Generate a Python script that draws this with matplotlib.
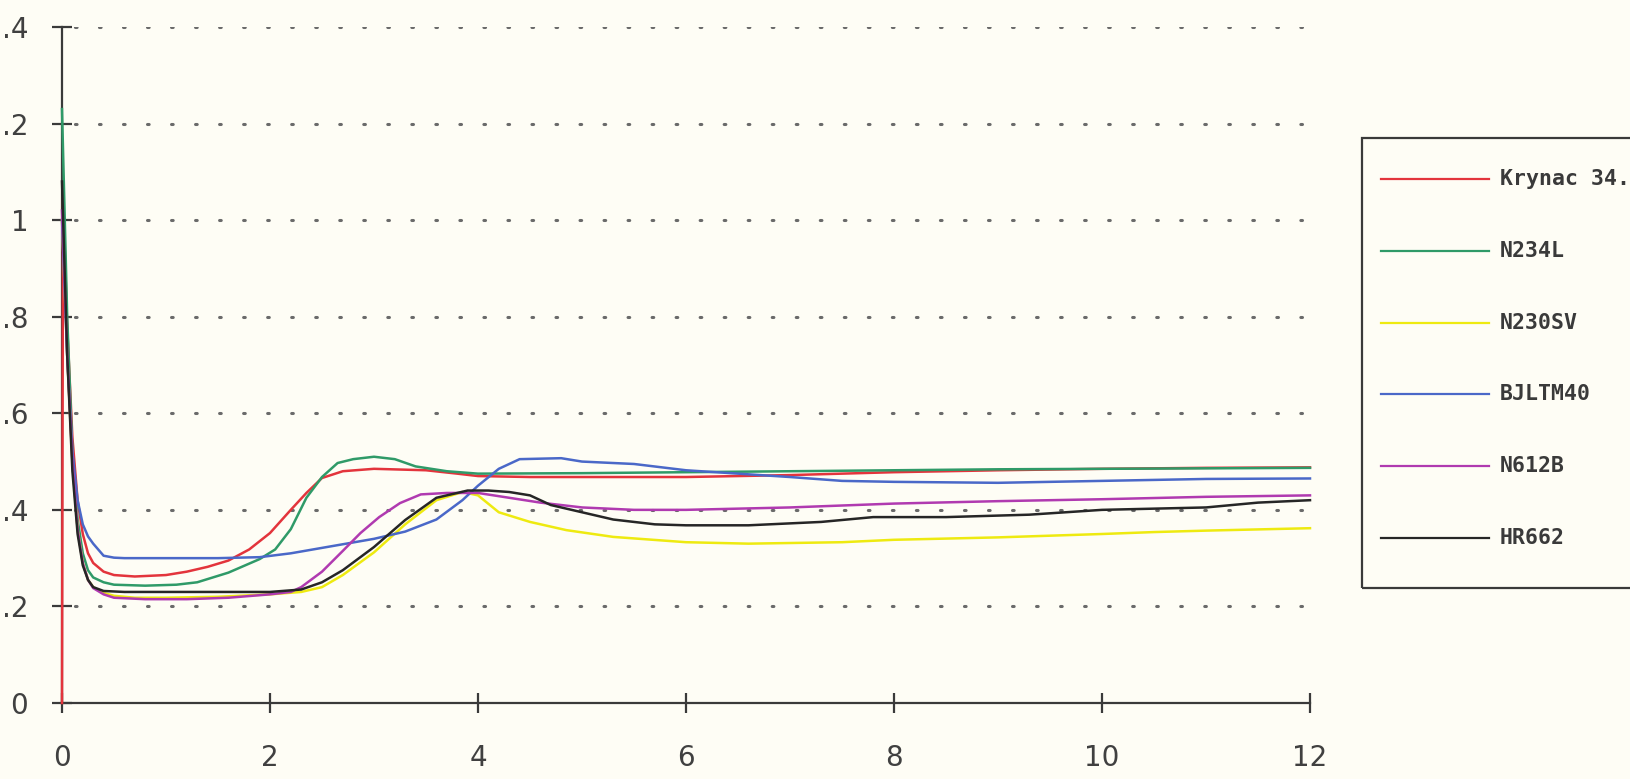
import matplotlib
matplotlib.use("Agg")
import matplotlib.pyplot as plt
from matplotlib.lines import Line2D
from matplotlib.patches import Rectangle

plt.rcParams['lines.scale_dashes'] = False

# ---------------- data ----------------
series_names = ["Krynac 34.", "N234L", "N230SV", "BJLTM40", "N612B", "HR662"]
series_colors = ["#e3343c", "#2f9a68", "#eeea10", "#4a68c8", "#b03ab0", "#262626"]

red_x = [0, 0.01, 0.05, 0.1, 0.15, 0.2, 0.25, 0.3, 0.4, 0.5, 0.7, 1.0, 1.2, 1.4, 1.6, 1.8, 2.0,
         2.2, 2.35, 2.5, 2.7, 3.0, 3.5, 3.8, 4.0, 4.5, 5.0, 6.0, 7.0, 8.0, 9.0, 10.0, 11.0, 12.0]
red_y = [0, 1.05, 0.78, 0.55, 0.42, 0.35, 0.31, 0.29, 0.272, 0.265, 0.262, 0.265, 0.272, 0.282,
         0.295, 0.318, 0.352, 0.40, 0.435, 0.466, 0.48, 0.485, 0.482, 0.475, 0.47, 0.468, 0.468,
         0.468, 0.472, 0.478, 0.482, 0.485, 0.487, 0.488]

green_x = [0, 0.05, 0.1, 0.15, 0.2, 0.25, 0.3, 0.4, 0.5, 0.8, 1.1, 1.3, 1.6, 1.9, 2.05, 2.2, 2.35,
           2.5, 2.65, 2.8, 3.0, 3.2, 3.4, 3.7, 4.0, 5.0, 6.0, 7.0, 8.0, 9.0, 10.0, 11.0, 12.0]
green_y = [1.23, 0.8, 0.52, 0.38, 0.31, 0.275, 0.26, 0.25, 0.245, 0.243, 0.245, 0.25, 0.27, 0.298,
           0.318, 0.36, 0.425, 0.468, 0.497, 0.505, 0.51, 0.505, 0.49, 0.48, 0.475, 0.476, 0.478,
           0.48, 0.482, 0.484, 0.485, 0.486, 0.487]

yellow_x = [0, 0.05, 0.1, 0.15, 0.2, 0.25, 0.3, 0.4, 0.5, 0.7, 1.0, 1.5, 2.0, 2.3, 2.5, 2.7, 3.0,
            3.3, 3.6, 3.85, 4.0, 4.2, 4.5, 4.85, 5.3, 6.0, 6.6, 7.5, 8.0, 9.0, 10.0, 10.5, 11.0, 12.0]
yellow_y = [1.0, 0.72, 0.5, 0.36, 0.29, 0.255, 0.24, 0.228, 0.222, 0.218, 0.218, 0.22, 0.225, 0.23,
            0.24, 0.265, 0.312, 0.37, 0.42, 0.437, 0.43, 0.395, 0.375, 0.358, 0.344, 0.333, 0.33,
            0.333, 0.338, 0.343, 0.35, 0.354, 0.357, 0.362]

blue_x = [0, 0.05, 0.1, 0.15, 0.2, 0.25, 0.3, 0.4, 0.5, 0.6, 1.0, 1.5, 1.9, 2.2, 2.6, 3.0, 3.3, 3.6,
          3.85, 4.0, 4.2, 4.4, 4.8, 5.0, 5.5, 6.0, 6.5, 7.0, 7.5, 8.0, 9.0, 10.0, 11.0, 12.0]
blue_y = [1.0, 0.72, 0.52, 0.42, 0.37, 0.345, 0.33, 0.305, 0.301, 0.30, 0.30, 0.30, 0.302, 0.31,
          0.325, 0.34, 0.355, 0.38, 0.42, 0.45, 0.485, 0.505, 0.507, 0.5, 0.495, 0.482, 0.475,
          0.468, 0.46, 0.458, 0.456, 0.46, 0.464, 0.465]

purple_x = [0, 0.05, 0.1, 0.15, 0.2, 0.25, 0.3, 0.4, 0.5, 0.8, 1.2, 1.6, 2.0, 2.2, 2.3, 2.5, 2.7,
            2.87, 3.05, 3.25, 3.45, 3.7, 4.0, 4.3, 4.6, 5.0, 5.5, 6.0, 7.0, 8.0, 9.0, 10.0, 11.0, 12.0]
purple_y = [1.02, 0.72, 0.5, 0.36, 0.29, 0.255, 0.238, 0.225, 0.218, 0.215, 0.215, 0.218, 0.225,
            0.23, 0.24, 0.272, 0.315, 0.352, 0.385, 0.414, 0.432, 0.435, 0.435, 0.425, 0.415,
            0.405, 0.4, 0.4, 0.405, 0.413, 0.418, 0.422, 0.427, 0.43]

black_x = [0, 0.05, 0.1, 0.15, 0.2, 0.25, 0.3, 0.4, 0.6, 1.0, 1.5, 2.0, 2.3, 2.5, 2.7, 3.0, 3.3, 3.6,
           3.9, 4.1, 4.3, 4.5, 4.7, 5.0, 5.3, 5.7, 6.0, 6.6, 7.3, 7.8, 8.5, 9.3, 10.0, 11.0, 11.5, 12.0]
black_y = [1.08, 0.72, 0.48, 0.35, 0.285, 0.255, 0.24, 0.232, 0.23, 0.23, 0.23, 0.23, 0.235, 0.25,
           0.275, 0.323, 0.379, 0.425, 0.44, 0.44, 0.437, 0.43, 0.41, 0.395, 0.38, 0.37, 0.368,
           0.368, 0.375, 0.385, 0.385, 0.39, 0.40, 0.405, 0.415, 0.42]

series_x = [red_x, green_x, yellow_x, blue_x, purple_x, black_x]
series_y = [red_y, green_y, yellow_y, blue_y, purple_y, black_y]

x_ticks = [0, 2, 4, 6, 8, 10, 12]
x_labels = ["0", "2", "4", "6", "8", "10", "12"]
y_ticks = [0, 0.2, 0.4, 0.6, 0.8, 1.0, 1.2, 1.4]
# the reference shows the two top labels with their leading "1" cropped off the image
y_labels = ["0", ".2", ".4", ".6", ".8", "1", ".2", ".4"]

# ---------------- figure ----------------
bg = "#fefdf5"
W, H = 1630, 779
fig = plt.figure(figsize=(W / 100, H / 100), dpi=100, facecolor=bg)
ax = fig.add_axes([62 / W, 1 - 703 / H, (1310 - 62) / W, (703 - 27) / H])
ax.set_facecolor(bg)

ax.set_xlim(0, 12)
ax.set_ylim(0, 1.4)

for yv in y_ticks[1:]:
    ax.axhline(yv, color="#6a6a6a", lw=2.2, linestyle=(8, (1.2, 16.1)),
               dash_capstyle="round", zorder=1)

for xs, ys, c in zip(series_x, series_y, series_colors):
    ax.plot(xs, ys, color=c, lw=1.8, clip_on=False, zorder=3)

for s in ["top", "right"]:
    ax.spines[s].set_visible(False)
for s in ["left", "bottom"]:
    ax.spines[s].set_color("#3a3a3a")
    ax.spines[s].set_linewidth(1.6)

ax.set_xticks(x_ticks)
ax.set_xticklabels(x_labels)
ax.set_yticks(y_ticks)
ax.set_yticklabels(y_labels)
ax.tick_params(axis="both", direction="inout", length=14.5, width=1.6, color="#3a3a3a",
               labelsize=20, labelcolor="#404040")
ax.tick_params(axis="y", pad=17)
ax.tick_params(axis="x", pad=22)

# ---------------- legend (drawn box, cut at right edge) ----------------
box = Rectangle((1362 / W, 1 - 588 / H), (1700 - 1362) / W, (588 - 138) / H,
                transform=fig.transFigure, fill=False, edgecolor="#3a3a3a", lw=1.6)
fig.add_artist(box)
leg_y0 = 179
leg_dy = 71.8
for i, (name, c) in enumerate(zip(series_names, series_colors)):
    yy = 1 - (leg_y0 + i * leg_dy) / H
    fig.add_artist(Line2D([1381 / W, 1489 / W], [yy, yy], transform=fig.transFigure,
                          color=c, lw=1.6))
    fig.text(1500 / W, yy, name, family="DejaVu Sans Mono", fontweight="bold",
             fontsize=15.5, color="#3a3a3a", va="center", ha="left")

fig.savefig("out.png", dpi=100, facecolor=bg)
